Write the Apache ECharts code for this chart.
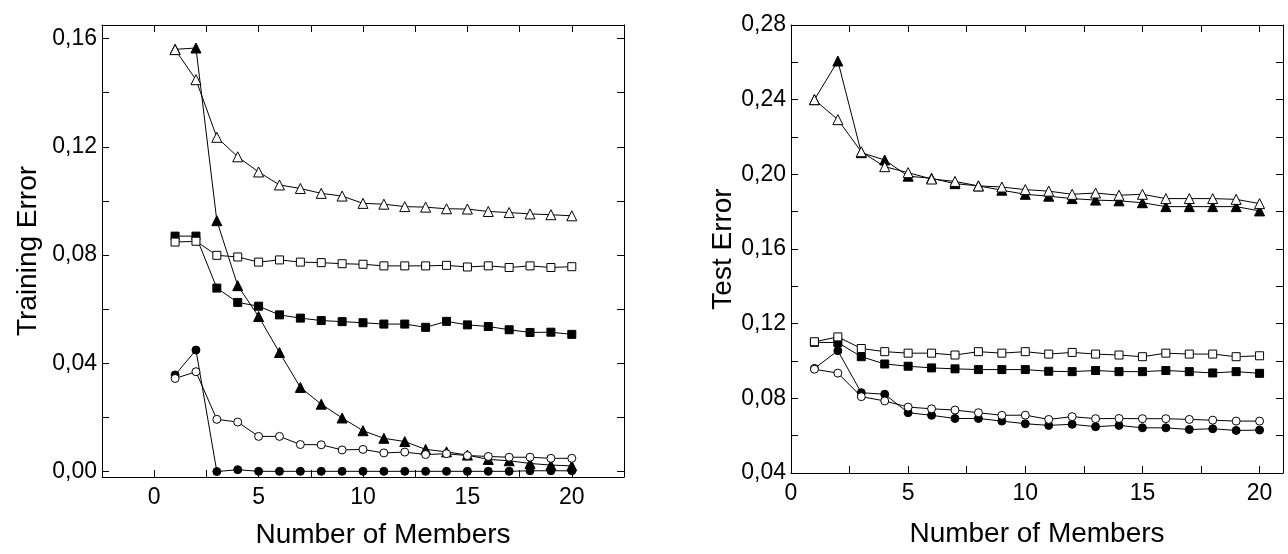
<!DOCTYPE html>
<html>
<head>
<meta charset="utf-8">
<script src="https://cdn.jsdelivr.net/npm/echarts@6/dist/echarts.min.js"></script>
<style>
  html, body { margin: 0; background: #fff; }
  #chart { width: 1288px; height: 554px; }
</style>
</head>
<body>
<div id="chart"></div>
<script>
const members = [1, 2, 3, 4, 5, 6, 7, 8, 9, 10, 11, 12, 13, 14, 15, 16, 17, 18, 19, 20];

// training error (left panel)
const trainOpenTri = [0.1559, 0.1448, 0.1235, 0.1163, 0.1107, 0.1059, 0.1046, 0.1028, 0.1018, 0.0991, 0.0988, 0.0979, 0.0977, 0.0971, 0.0970, 0.0961, 0.0957, 0.0952, 0.0949, 0.0945];
const trainFillTri = [0.1560, 0.1565, 0.0927, 0.0687, 0.0573, 0.0440, 0.0311, 0.0249, 0.0198, 0.0151, 0.0123, 0.0111, 0.0082, 0.0073, 0.0061, 0.0045, 0.0040, 0.0030, 0.0024, 0.0021];
const trainFillSq = [0.0870, 0.0870, 0.0678, 0.0625, 0.0611, 0.0579, 0.0567, 0.0558, 0.0554, 0.0550, 0.0545, 0.0545, 0.0533, 0.0555, 0.0542, 0.0536, 0.0524, 0.0514, 0.0515, 0.0507];
const trainOpenSq = [0.0848, 0.0851, 0.0799, 0.0793, 0.0774, 0.0782, 0.0774, 0.0772, 0.0768, 0.0766, 0.0760, 0.0760, 0.0760, 0.0762, 0.0756, 0.0760, 0.0754, 0.0760, 0.0754, 0.0757];
const trainFillCirc = [0.0357, 0.0449, 0.0000, 0.0007, 0.0001, 0.0001, 0.0001, 0.0001, 0.0001, 0.0001, 0.0001, 0.0001, 0.0001, 0.0001, 0.0001, 0.0001, 0.0001, 0.0003, 0.0003, 0.0003];
const trainOpenCirc = [0.0344, 0.0369, 0.0193, 0.0183, 0.0130, 0.0130, 0.0100, 0.0099, 0.0080, 0.0082, 0.0069, 0.0072, 0.0063, 0.0066, 0.0059, 0.0056, 0.0053, 0.0053, 0.0049, 0.0049];

// test error (right panel)
const testOpenTri = [0.2400, 0.2293, 0.2121, 0.2041, 0.2009, 0.1975, 0.1962, 0.1938, 0.1932, 0.1918, 0.1910, 0.1893, 0.1900, 0.1888, 0.1893, 0.1870, 0.1870, 0.1870, 0.1866, 0.1843];
const testFillTri = [0.2400, 0.2607, 0.2116, 0.2077, 0.1990, 0.1979, 0.1950, 0.1938, 0.1915, 0.1893, 0.1883, 0.1870, 0.1862, 0.1858, 0.1848, 0.1827, 0.1827, 0.1827, 0.1827, 0.1804];
const testOpenSq = [0.1103, 0.1129, 0.1067, 0.1050, 0.1042, 0.1042, 0.1032, 0.1050, 0.1042, 0.1050, 0.1037, 0.1046, 0.1037, 0.1032, 0.1023, 0.1042, 0.1037, 0.1037, 0.1023, 0.1028];
const testFillSq = [0.1100, 0.1099, 0.1023, 0.0984, 0.0972, 0.0963, 0.0958, 0.0954, 0.0954, 0.0954, 0.0945, 0.0943, 0.0949, 0.0943, 0.0943, 0.0949, 0.0943, 0.0936, 0.0943, 0.0934];
const testFillCirc = [0.0960, 0.1055, 0.0830, 0.0822, 0.0723, 0.0709, 0.0692, 0.0692, 0.0678, 0.0664, 0.0655, 0.0661, 0.0648, 0.0655, 0.0642, 0.0642, 0.0633, 0.0637, 0.0628, 0.0630];
const testOpenCirc = [0.0956, 0.0935, 0.0809, 0.0786, 0.0753, 0.0744, 0.0737, 0.0723, 0.0709, 0.0710, 0.0687, 0.0702, 0.0691, 0.0692, 0.0691, 0.0691, 0.0687, 0.0683, 0.0678, 0.0678];

const font = 'Arial, "Liberation Sans", sans-serif';

function fmtX(v) {
  return Math.abs(v % 5) < 1e-9 ? String(v) : '';
}
function fmtY(v) {
  const k = Math.round(v * 100);
  if (Math.abs(v * 100 - k) > 1e-6 || k % 4 !== 0) return '';
  return (k / 100).toFixed(2).replace('.', ',');
}

const line = { color: '#000', width: 1 };

function xAxis(grid, position, min, max, opts) {
  return Object.assign({
    type: 'value', gridIndex: grid, position: position, min: min, max: max, interval: 2.5,
    axisLine: { onZero: false, lineStyle: line },
    axisTick: { inside: true, length: 7, lineStyle: line },
    axisLabel: { show: false },
    splitLine: { show: false }
  }, opts || {});
}
function yAxis(grid, position, min, max, opts) {
  return Object.assign({
    type: 'value', gridIndex: grid, position: position, min: min, max: max,
    axisLine: { onZero: false, lineStyle: line },
    axisTick: { inside: true, length: 7, lineStyle: line },
    axisLabel: { show: false },
    splitLine: { show: false }
  }, opts || {});
}

const xLabel = { show: true, formatter: fmtX, color: '#000', fontSize: 23, fontFamily: font, margin: 9 };
const yLabel = { show: true, formatter: fmtY, color: '#000', fontSize: 23, fontFamily: font, margin: 5 };
const nameStyle = { color: '#000', fontSize: 28, fontFamily: font };

function series(values, symbol, filled, size, axisIdx) {
  return {
    type: 'line',
    xAxisIndex: axisIdx, yAxisIndex: axisIdx,
    data: members.map((m, i) => [m, values[i]]),
    symbol: symbol, symbolSize: size, showAllSymbol: true,
    lineStyle: { color: '#000', width: 1 },
    itemStyle: { color: filled ? '#000' : '#fff', borderColor: '#000', borderWidth: 1 },
    z: filled ? 2 : 3
  };
}

const chart = echarts.init(document.getElementById('chart'));
chart.setOption({
  animation: false,
  backgroundColor: '#fff',
  grid: [
    { left: 102, right: 664, top: 25, bottom: 76 },
    { left: 791, right: 5, top: 25, bottom: 81 }
  ],
  xAxis: [
    xAxis(0, 'bottom', -2.5, 22.5, {
      axisLabel: xLabel, name: 'Number of Members', nameLocation: 'middle', nameGap: 44,
      nameTextStyle: Object.assign({ padding: [0, 0, 0, 40] }, nameStyle)
    }),
    xAxis(0, 'top', -2.5, 22.5),
    xAxis(1, 'bottom', 0, 21, {
      axisLabel: xLabel, name: 'Number of Members', nameLocation: 'middle', nameGap: 47,
      nameTextStyle: nameStyle
    }),
    xAxis(1, 'top', 0, 21)
  ],
  yAxis: [
    yAxis(0, 'left', -0.002, 0.165, {
      splitNumber: 8, minInterval: 0.02, maxInterval: 0.02,
      axisLabel: yLabel, name: 'Training Error', nameLocation: 'middle', nameGap: 60,
      nameTextStyle: nameStyle
    }),
    yAxis(0, 'right', -0.002, 0.165, { splitNumber: 8, minInterval: 0.02, maxInterval: 0.02 }),
    yAxis(1, 'left', 0.04, 0.28, {
      interval: 0.02,
      axisLabel: yLabel, name: 'Test Error', nameLocation: 'middle', nameGap: 52,
      nameTextStyle: nameStyle
    }),
    yAxis(1, 'right', 0.04, 0.28, { interval: 0.02 })
  ],
  series: [
    series(trainFillTri, 'triangle', true, 10, 0),
    series(trainOpenTri, 'triangle', false, 10, 0),
    series(trainFillSq, 'rect', true, 8, 0),
    series(trainOpenSq, 'rect', false, 8, 0),
    series(trainFillCirc, 'circle', true, 8, 0),
    series(trainOpenCirc, 'circle', false, 8, 0),
    series(testFillTri, 'triangle', true, 10, 2),
    series(testOpenTri, 'triangle', false, 10, 2),
    series(testFillSq, 'rect', true, 8, 2),
    series(testOpenSq, 'rect', false, 8, 2),
    series(testFillCirc, 'circle', true, 8, 2),
    series(testOpenCirc, 'circle', false, 8, 2)
  ]
});
</script>
</body>
</html>
